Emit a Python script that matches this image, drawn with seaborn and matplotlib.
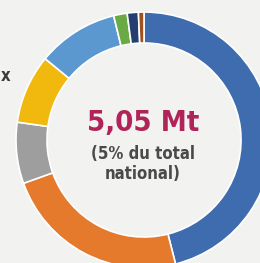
"""Donut chart: repartition of 5,05 Mt"""

import matplotlib
matplotlib.use("Agg")
import matplotlib.pyplot as plt
import seaborn as sns

# segment shares (%), clockwise from 12 o'clock
categories = ["A", "B", "C", "D", "E", "F", "G", "H"]
shares = [45.9, 23.4, 7.7, 8.7, 10.2, 1.7, 1.4, 0.7]
colors = ["#3F6CAF", "#E57A2D", "#9E9E9E", "#F1B80E",
          "#5A98CF", "#6AAA45", "#233F70", "#A0521E"]

total_label = "5,05 Mt"
sub_label = "(5% du total\nnational)"

sns.set_theme(style="white")
plt.rcParams["font.family"] = ["DejaVu Sans"]

bg = "#F2F2F0"
fig = plt.figure(figsize=(2.6, 2.63), dpi=100, facecolor=bg)
ax = fig.add_axes([0, 0, 1, 1])
ax.set_facecolor(bg)

ax.pie(shares, colors=colors, startangle=90, counterclock=False, radius=1.0,
       wedgeprops={"width": 0.242, "edgecolor": "white", "linewidth": 1.2})

ax.text(-0.01, 0.13, total_label, ha="center", va="center", fontsize=21,
        fontweight="bold", fontstretch="condensed", color="#B0245A")
ax.text(-0.01, -0.19, sub_label, ha="center", va="center", fontsize=12,
        fontweight="bold", fontstretch="condensed", color="#4A4A4A",
        linespacing=1.15)
ax.text(-1.12, 0.5, "x", ha="left", va="center", fontsize=12,
        fontweight="bold", fontstretch="condensed", color="#3A3A3A")

ax.set_xlim(-1.125, 0.906)
ax.set_ylim(-0.961, 1.094)
ax.set_aspect("auto")
ax.axis("off")

plt.savefig("out.png", dpi=100, facecolor=bg)
plt.close()
